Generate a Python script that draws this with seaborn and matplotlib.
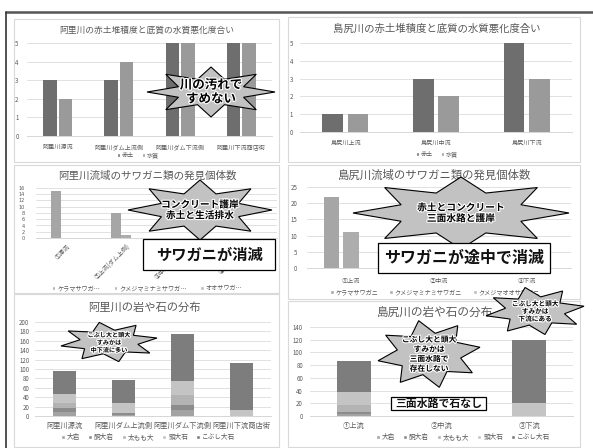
import numpy as np
import pandas as pd
import matplotlib
matplotlib.use("Agg")
import matplotlib.pyplot as plt
import seaborn as sns
from matplotlib.patches import Rectangle, Polygon, Patch
import matplotlib.patheffects as pe

sns.set_theme(style="white")
plt.rcParams['font.family'] = ['Noto Sans CJK JP', 'DejaVu Sans']

W, H = 593, 448

# --- 赤土堆積度と底質の水質悪化度合い ---
ari_sites = ["阿里川源流", "阿里川ダム上流側", "阿里川ダム下流側", "阿里川下流商店街"]
ari_akatsuchi = [3, 3, 5, 5]
ari_suishitsu = [2, 4, 5, 5]

shima_sites = ["島尻川上流", "島尻川中流", "島尻川下流"]
shima_akatsuchi = [1, 3, 5]
shima_suishitsu = [1, 2, 3]

quality_names = ["赤土", "水質"]

# --- サワガニ類の発見個体数 ---
ari_crab_sites = ["①源流", "②上流(ダム上側)", "③中流(ダム下側)", "④下流(商店街)"]
ari_crab_names = ["ケラマサワガ…", "クメジマミナミサワガ…", "オオサワガ…"]
ari_kerama = [15, 8, 0, 0]
ari_minami = [0, 1, 0, 0]
ari_oo = [0, 0, 0, 0]

shima_crab_sites = ["①上流", "②中流", "③下流"]
shima_crab_names = ["ケラマサワガニ", "クメジマミナミサワガニ", "クメジマオオサワガニ"]
shima_kerama = [22, 0, 0]
shima_minami = [11, 0, 0]
shima_oo = [0, 0, 0]

# --- 岩や石の分布 ---
stone_names = ["大岩", "胴大岩", "太もも大", "頭大石", "こぶし大石"]
ari_stone_sites = ["阿里川源流", "阿里川ダム上流側", "阿里川ダム下流側", "阿里川下流商店街"]
ari_ooiwa = [9, 3, 12, 0]
ari_dooiwa = [9, 3, 12, 0]
ari_futomomo = [9, 0, 20, 0]
ari_atama = [19, 22, 31, 12]
ari_kobushi = [49, 48, 100, 100]

shima_stone_sites = ["①上流", "②中流", "③下流"]
shima_ooiwa = [3, 0, 0]
shima_dooiwa = [4, 0, 0]
shima_futomomo = [10, 0, 0]
shima_atama = [20, 0, 20]
shima_kobushi = [50, 0, 99]

DARK, LIGHT = "#6e6e6e", "#9a9a9a"
CRAB_COLORS = ["#a6a6a6", "#adadad", "#bdbdbd"]
STONE_COLORS = ["#a3a3a3", "#8c8c8c", "#b3b3b3", "#c4c4c4", "#7d7d7d"]
TXT = "#595959"

fig = plt.figure(figsize=(W / 100, H / 100), dpi=100)
fig.patch.set_facecolor("white")


def fx(x):
    return x / W


def fy(y):
    return 1 - y / H


def panel(x0, y0, x1, y1):
    fig.add_artist(Rectangle((fx(x0), fy(y1)), (x1 - x0) / W, (y1 - y0) / H,
                             transform=fig.transFigure, facecolor="white",
                             edgecolor="#d9d9d9", lw=0.8, zorder=-5))


def add_ax(x0, x1, y_top, y_bot):
    ax = fig.add_axes([fx(x0), fy(y_bot), (x1 - x0) / W, (y_bot - y_top) / H])
    ax.set_facecolor("none")
    return ax


def style(ax, ymax, step, ncat, fs=4.6, xpad=4, ypad=4):
    ax.set_ylim(0, ymax)
    ax.set_yticks(np.arange(0, ymax + step / 2, step))
    ax.set_xlim(-0.5, ncat - 0.5)
    ax.grid(axis="y", color="#dcdcdc", lw=0.6)
    ax.grid(axis="x", visible=False)
    ax.set_axisbelow(True)
    for s in ["top", "right", "left"]:
        ax.spines[s].set_visible(False)
    ax.spines["bottom"].set_color("#d0d0d0")
    ax.spines["bottom"].set_linewidth(0.6)
    ax.tick_params(length=0, labelsize=fs, colors=TXT)
    ax.tick_params(axis="x", pad=xpad)
    ax.tick_params(axis="y", pad=ypad)
    ax.set_xlabel("")
    ax.set_ylabel("")


def grouped(ax, cats, names, values, colors, width, gap):
    df = pd.DataFrame([(c, n, v) for n, vals in zip(names, values)
                       for c, v in zip(cats, vals)], columns=["cat", "series", "val"])
    sns.barplot(data=df, x="cat", y="val", hue="series", order=cats, hue_order=names,
                palette=dict(zip(names, colors)), width=width, gap=gap,
                saturation=1, legend=False, errorbar=None, linewidth=0, ax=ax)


def stacked(ax, cats, layers, colors, width):
    cum = np.cumsum(np.array(layers, dtype=float), axis=0)
    for i in reversed(range(len(layers))):
        sns.barplot(x=cats, y=cum[i], order=cats, color=colors[i], width=width,
                    saturation=1, errorbar=None, linewidth=0, ax=ax)


def title(x, y, s, size):
    fig.text(fx(x), fy(y), s, ha="center", va="center", fontsize=size, color=TXT)


def legend(x, y, names, colors, size, spacing=1.2):
    handles = [Patch(facecolor=c, label=n) for n, c in zip(names, colors)]
    fig.legend(handles=handles, loc="center", bbox_to_anchor=(fx(x), fy(y)),
               ncol=len(names), frameon=False, fontsize=size, labelcolor=TXT,
               handlelength=0.6, handleheight=0.6, handletextpad=0.3,
               columnspacing=spacing, borderpad=0, borderaxespad=0)


def star(cx, cy, rx, ry, text, size, n=8, inner=0.6, rot=0.0):
    ang = rot + np.pi * np.arange(2 * n) / n
    r = np.where(np.arange(2 * n) % 2 == 0, 1.0, inner)
    pts = np.column_stack([fx(cx + rx * r * np.cos(ang)), fy(cy - ry * r * np.sin(ang))])
    fig.add_artist(Polygon(pts, closed=True, transform=fig.transFigure,
                           facecolor="#c2c2c2", edgecolor="black", lw=0.8, zorder=10))
    return fig.text(fx(cx), fy(cy), text, ha="center", va="center", fontsize=size,
                    fontweight="bold", color="black", linespacing=1.1, zorder=11,
                    path_effects=[pe.withStroke(linewidth=1.6, foreground="white")])


def box(x0, y0, x1, y1, text, size):
    fig.add_artist(Rectangle((fx(x0), fy(y1)), (x1 - x0) / W, (y1 - y0) / H,
                             transform=fig.transFigure, facecolor="white",
                             edgecolor="black", lw=0.9, zorder=12))
    fig.text(fx((x0 + x1) / 2), fy((y0 + y1) / 2), text, ha="center", va="center",
             fontsize=size, fontweight="bold", color="#111111", zorder=13)


# outer frame
fig.add_artist(plt.Line2D([fx(6), fx(593)], [fy(12.5), fy(12.5)], transform=fig.transFigure,
                          color="#555555", lw=1.8, zorder=20))
fig.add_artist(plt.Line2D([fx(6), fx(6)], [fy(12.5), fy(448)], transform=fig.transFigure,
                          color="#333333", lw=1.2, zorder=20))

# panel frames
panel(14, 19, 279, 162)
panel(288, 17, 580, 162)
panel(14, 165, 279, 293)
panel(288, 165, 580, 299)
panel(14, 294, 279, 447)
panel(288, 301, 580, 447)

# ---- 阿里川: 赤土と水質 ----
ax = add_ax(27, 272, 43, 136)
grouped(ax, ari_sites, quality_names, [ari_akatsuchi, ari_suishitsu], [DARK, LIGHT], 0.5, 0.12)
style(ax, 5, 1, len(ari_sites), fs=4.4, xpad=5, ypad=6)
title(147, 30, "阿里川の赤土堆積度と底質の水質悪化度合い", 6.3)
legend(138, 155, quality_names, [DARK, LIGHT], 4.4)

# ---- 島尻川: 赤土と水質 ----
ax = add_ax(300, 572, 43, 132)
grouped(ax, shima_sites, quality_names, [shima_akatsuchi, shima_suishitsu], [DARK, LIGHT], 0.56, 0.18)
style(ax, 5, 1, len(shima_sites), fs=4.4, xpad=5, ypad=5)
title(437, 29, "島尻川の赤土堆積度と底質の水質悪化度合い", 7.5)
legend(437, 154, quality_names, [DARK, LIGHT], 4.4)

# ---- 阿里川: サワガニ ----
ax = add_ax(36, 277, 188, 238)
grouped(ax, ari_crab_sites, ari_crab_names, [ari_kerama, ari_minami, ari_oo], CRAB_COLORS, 0.5, 0.0)
style(ax, 16, 2, len(ari_crab_sites), fs=4.4, xpad=3, ypad=8)
for lab in ax.get_yticklabels():
    lab.set_fontfamily("DejaVu Sans")
    lab.set_fontsize(3.5)
for lab in ax.get_xticklabels():
    lab.set_rotation(45)
    lab.set_ha("right")
    lab.set_rotation_mode("anchor")
title(147, 176, "阿里川流域のサワガニ類の発見個体数", 7.6)
legend(147, 288, ari_crab_names, CRAB_COLORS, 4.4, spacing=2.2)

# ---- 島尻川: サワガニ ----
ax = add_ax(307, 571, 187, 268)
grouped(ax, shima_crab_sites, shima_crab_names, [shima_kerama, shima_minami, shima_oo],
        CRAB_COLORS, 0.66, 0.2)
style(ax, 25, 5, len(shima_crab_sites), fs=4.4, xpad=6, ypad=7)
title(435, 175, "島尻川流域のサワガニ類の発見個体数", 8.2)
legend(435, 292, shima_crab_names, CRAB_COLORS, 4.4, spacing=1.8)

# ---- 阿里川: 岩や石 ----
ax = add_ax(35, 271, 322, 416)
stacked(ax, ari_stone_sites, [ari_ooiwa, ari_dooiwa, ari_futomomo, ari_atama, ari_kobushi],
        STONE_COLORS, 0.39)
style(ax, 200, 20, len(ari_stone_sites), fs=4.4, xpad=4, ypad=4)
ax.tick_params(axis="x", labelsize=5.2)
title(144, 308, "阿里川の岩や石の分布", 8.1)
legend(148, 437, stone_names, STONE_COLORS, 4.8, spacing=1.2)

# ---- 島尻川: 岩や石 ----
ax = add_ax(310, 573, 327, 416)
stacked(ax, shima_stone_sites, [shima_ooiwa, shima_dooiwa, shima_futomomo, shima_atama, shima_kobushi],
        STONE_COLORS, 0.39)
style(ax, 140, 20, len(shima_stone_sites), fs=4.4, xpad=4, ypad=5)
ax.tick_params(axis="x", labelsize=5.2)
title(435, 312, "島尻川の岩や石の分布", 8.4)
legend(463, 437, stone_names, STONE_COLORS, 4.8, spacing=1.2)

# ---- 吹き出し ----
star(211, 92, 64, 25, "川の汚れで\nすめない", 9.0, n=8, inner=0.55, rot=0.0)
star(200, 210, 72, 30, "コンクリート護岸\n赤土と生活排水", 7.0, n=8, inner=0.58, rot=0.0)
box(143, 239, 275, 270, "サワガニが消滅", 11)
star(461, 213, 108, 36, "赤土とコンクリート\n三面水路と護岸", 7.0, n=8, inner=0.6, rot=0.0)
box(378, 243, 550, 273, "サワガニが途中で消滅", 11.5)
star(109, 342, 49, 20, "こぶし大と頭大\nすみかは\n中下流に多い", 4.4, n=8, inner=0.6, rot=0.2)
star(429, 354, 52, 34, "こぶし大と頭大\nすみかは\n三面水路で\n存在しない", 5.6, n=8, inner=0.62, rot=0.2)
star(535, 311, 50, 24, "こぶし大と頭大\nすみかは\n下流にある", 4.8, n=8, inner=0.6, rot=0.2)
box(391, 397, 486, 410, "三面水路で石なし", 7.8)

fig.savefig("out.png", dpi=100, facecolor="white")
